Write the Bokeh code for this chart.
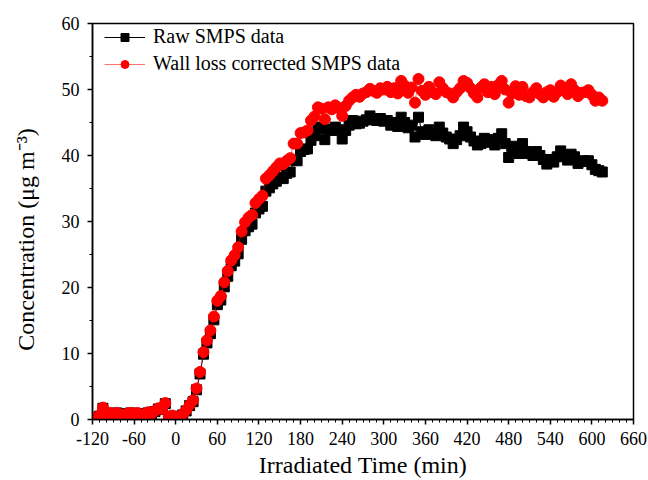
from bokeh.plotting import figure
from bokeh.models import FixedTicker, Range1d, Legend, LegendItem, ColumnDataSource
from bokeh.embed import file_html
from bokeh.resources import INLINE

# Irradiated time (min)
time_min = [
    -115, -110, -105, -100, -95, -90, -85, -80, -75, -70,
    -65, -60, -55, -50, -45, -40, -35, -30, -25, -20,
    -15, -10, -5, 0, 5, 10, 15, 20, 25, 30,
    35, 40, 45, 50, 55, 60, 65, 70, 75, 80,
    85, 90, 95, 100, 105, 110, 115, 120, 125, 130,
    135, 140, 145, 150, 155, 160, 165, 170, 175, 180,
    185, 190, 195, 200, 205, 210, 215, 220, 225, 230,
    235, 240, 245, 250, 255, 260, 265, 270, 275, 280,
    285, 290, 295, 300, 305, 310, 315, 320, 325, 330,
    335, 340, 345, 350, 355, 360, 365, 370, 375, 380,
    385, 390, 395, 400, 405, 410, 415, 420, 425, 430,
    435, 440, 445, 450, 455, 460, 465, 470, 475, 480,
    485, 490, 495, 500, 505, 510, 515, 520, 525, 530,
    535, 540, 545, 550, 555, 560, 565, 570, 575, 580,
    585, 590, 595, 600, 605, 610, 615,
]

# Raw SMPS data (ug m-3)
raw_smps = [
    0.3, 0.5, 1.7, 0.9, 0.9, 0.7, 1.0, 0.8, 0.6, 0.9,
    1.0, 0.8, 0.9, 0.7, 0.8, 1.0, 0.9, 1.2, 1.6, 1.5,
    2.4, 0.4, 0.5, 0.4, 0.3, 0.7, 1.3, 2.1, 2.7, 4.5,
    6.9, 9.9, 11.6, 13.0, 15.1, 17.4, 18.1, 20.1, 21.7, 23.3,
    24.0, 25.1, 27.3, 28.6, 29.2, 29.6, 31.3, 31.9, 32.3, 34.6,
    35.1, 35.7, 36.1, 36.7, 36.5, 37.3, 37.5, 39.3, 39.2, 40.6,
    40.9, 41.0, 42.3, 43.0, 44.3, 44.1, 42.4, 44.0, 43.8, 44.3,
    43.9, 42.5, 43.8, 44.6, 45.3, 44.8, 44.9, 45.2, 45.4, 46.0,
    45.5, 45.3, 45.6, 45.2, 45.3, 44.6, 45.0, 44.4, 45.8, 45.0,
    44.2, 44.6, 42.8, 45.8, 43.6, 43.2, 43.9, 43.4, 43.0, 44.3,
    43.4, 42.8, 42.5, 41.8, 42.4, 43.0, 44.3, 43.6, 42.8, 42.2,
    41.6, 41.8, 42.6, 42.0, 42.4, 41.6, 42.6, 43.3, 41.8, 39.7,
    40.6, 41.4, 40.3, 41.8, 40.6, 40.3, 40.0, 40.6, 40.0, 39.4,
    38.7, 39.4, 39.0, 39.8, 40.7, 40.0, 39.3, 40.2, 39.8, 38.8,
    39.1, 39.2, 39.2, 38.6, 37.9, 37.7, 37.5,
]

# Wall loss corrected SMPS data (ug m-3)
corrected_smps = [
    0.3, 0.6, 1.8, 0.9, 1.0, 0.7, 1.0, 0.8, 0.6, 0.9,
    1.0, 0.8, 1.0, 0.7, 0.8, 1.1, 0.9, 1.3, 1.7, 1.6,
    2.5, 0.4, 0.6, 0.4, 0.3, 0.8, 1.4, 2.2, 2.9, 4.7,
    7.2, 10.2, 12.0, 13.5, 15.6, 18.0, 18.7, 20.8, 22.5, 24.1,
    24.9, 26.1, 28.5, 29.9, 30.6, 31.0, 32.8, 33.4, 33.9, 36.5,
    37.0, 37.6, 38.2, 38.8, 38.7, 39.2, 39.6, 41.8, 41.8, 43.4,
    43.5, 43.8, 45.3, 45.9, 47.3, 47.1, 45.5, 47.3, 47.0, 47.6,
    47.2, 46.0, 47.5, 48.3, 48.8, 49.2, 48.9, 49.4, 49.6, 50.1,
    49.8, 49.5, 50.2, 50.0, 50.4, 49.6, 50.2, 49.4, 51.3, 50.6,
    49.5, 50.3, 48.0, 51.6, 49.8, 49.2, 50.4, 49.6, 49.3, 51.1,
    50.2, 49.6, 49.4, 48.8, 49.6, 50.2, 51.3, 51.0, 50.2, 49.4,
    48.8, 50.3, 50.8, 49.6, 50.4, 49.3, 50.7, 51.3, 50.0, 48.0,
    49.4, 50.5, 49.2, 50.4, 49.0, 48.8, 49.6, 50.2, 49.3, 48.8,
    49.6, 49.9, 48.9, 49.6, 50.6, 50.2, 49.3, 50.8, 49.9, 49.0,
    49.5, 49.6, 49.9, 49.2, 48.3, 48.8, 48.3,
]

x_major_ticks = [-120, -60, 0, 60, 120, 180, 240, 300, 360, 420, 480, 540, 600, 660]
x_tick_labels = ["-120", "-60", "0", "60", "120", "180", "240", "300", "360", "420",
                 "480", "540", "600", "660"]
y_major_ticks = [0, 10, 20, 30, 40, 50, 60]

FONT = "Liberation Serif"

src = ColumnDataSource(dict(t=time_min, raw=raw_smps, cor=corrected_smps))

p = figure(width=648, height=480, output_backend="svg", toolbar_location=None,
           x_range=Range1d(-120, 660), y_range=Range1d(0, 60),
           min_border_left=92, min_border_right=15, min_border_top=23, min_border_bottom=61)
p.xgrid.visible = False
p.ygrid.visible = False
p.outline_line_color = "black"
p.outline_line_width = 1.5
p.background_fill_color = "white"
p.border_fill_color = "white"

r_line_raw = p.line("t", "raw", source=src, line_color="black", line_width=1)
r_pt_raw = p.scatter("t", "raw", source=src, marker="square", size=10,
                     fill_color="black", line_color="black")
r_line_cor = p.line("t", "cor", source=src, line_color="#ff0000", line_width=1, line_alpha=0.55)
r_pt_cor = p.scatter("t", "cor", source=src, marker="circle", size=11,
                     fill_color="#ff0000", line_color="#ff0000")

minor_x = [v for v in range(-120, 661, 10)]
minor_y = [v for v in range(0, 61, 5)]
p.xaxis.ticker = FixedTicker(ticks=x_major_ticks, minor_ticks=minor_x)
p.yaxis.ticker = FixedTicker(ticks=y_major_ticks, minor_ticks=minor_y)
p.xaxis.major_label_overrides = {t: s for t, s in zip(x_major_ticks, x_tick_labels)}

for ax in (p.xaxis[0], p.yaxis[0]):
    ax.axis_line_width = 1.5
    ax.axis_line_color = "black"
    ax.major_tick_line_color = "black"
    ax.minor_tick_line_color = "black"
    ax.major_tick_line_width = 1.5
    ax.minor_tick_line_width = 1
    ax.major_tick_in = 0
    ax.major_tick_out = 5
    ax.minor_tick_in = 0
    ax.minor_tick_out = 3
    ax.major_label_text_font = FONT
    ax.major_label_text_font_size = "18px"
    ax.major_label_text_color = "black"
    ax.axis_label_text_font = FONT
    ax.axis_label_text_font_size = "24px"
    ax.axis_label_text_font_style = "normal"
    ax.axis_label_text_color = "black"

p.xaxis.axis_label = "Irradiated Time (min)"
p.yaxis.axis_label = "Concentration (μg m⁻³)" + "\u00a0" * 6
p.xaxis.major_label_standoff = 7
p.xaxis.axis_label_standoff = 4
p.yaxis.major_label_standoff = 8
p.yaxis.axis_label_standoff = 20

legend = Legend(items=[
    LegendItem(label="Raw SMPS data", renderers=[r_line_raw, r_pt_raw]),
    LegendItem(label="Wall loss corrected SMPS data", renderers=[r_line_cor, r_pt_cor]),
], location=(12, 344))
legend.background_fill_alpha = 0
legend.border_line_color = None
legend.margin = 0
legend.padding = 5
legend.spacing = 4
legend.label_height = 20
legend.glyph_height = 20
legend.glyph_width = 41
legend.label_standoff = 8
legend.label_text_font = FONT
legend.label_text_font_size = "20px"
legend.label_text_color = "black"
p.add_layout(legend, "center")

open("out.html", "w").write(file_html(p, INLINE))
